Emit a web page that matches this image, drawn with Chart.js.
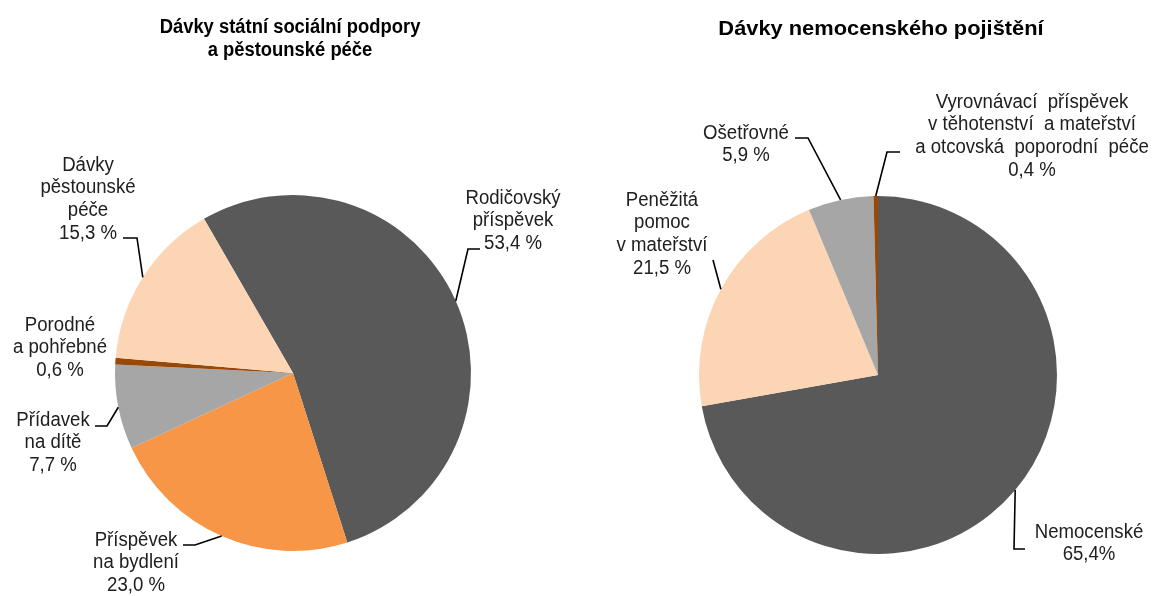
<!DOCTYPE html>
<html>
<head>
<meta charset="utf-8">
<script src="https://cdn.jsdelivr.net/npm/chart.js@4.4.1/dist/chart.umd.min.js"></script>
<style>
  html, body { margin: 0; padding: 0; background: #fff; }
  #wrap { position: relative; width: 1153px; height: 596px; }
  .box { position: absolute; top: 0; height: 596px; }
</style>
</head>
<body>
<div id="wrap">
  <div class="box" style="left:0;width:576px"><canvas id="leftPie"></canvas></div>
  <div class="box" style="left:576px;width:577px"><canvas id="rightPie"></canvas></div>
</div>
<script>
// Dávky státní sociální podpory a pěstounské péče
const sspLabels = ['Rodičovský příspěvek', 'Příspěvek na bydlení', 'Přídavek na dítě', 'Porodné a pohřebné', 'Dávky pěstounské péče'];
const sspValues = [53.4, 23.0, 7.7, 0.6, 15.3];
const sspText = [
	['Rodičovský', 'příspěvek', '53,4 %'],
	['Příspěvek', 'na bydlení', '23,0 %'],
	['Přídavek', 'na dítě', '7,7 %'],
	['Porodné', 'a pohřebné', '0,6 %'],
	['Dávky', 'pěstounské', 'péče', '15,3 %'],
];

// Dávky nemocenského pojištění
// slice sizes as drawn in the picture (the printed label of Nemocenské says 65,4%)
const nemLabels = ['Nemocenské', 'Peněžitá pomoc v mateřství', 'Ošetřovné', 'Vyrovnávací příspěvek'];
const nemValues = [72.2, 21.5, 5.9, 0.4];
const nemText = [
	['Nemocenské', '65,4%'],
	['Peněžitá', 'pomoc', 'v mateřství', '21,5 %'],
	['Ošetřovné', '5,9 %'],
	['Vyrovnávací  příspěvek', 'v těhotenství  a mateřství', 'a otcovská  poporodní  péče', '0,4 %'],
];

const sspColors = ['#595959', '#F79646', '#A6A6A6', '#984807', '#FCD5B5'];
const nemColors = ['#595959', '#FCD5B5', '#A6A6A6', '#984807'];

const FONT = '"Liberation Sans", Arial, sans-serif';

function drawText(ctx, str, x, y, sq) {
	ctx.save();
	ctx.translate(x, y);
	ctx.scale(sq, 1);
	ctx.fillText(str, 0, 0);
	ctx.restore();
}

// titles + labels with leader lines; label places are offsets from the pie centre
function makeCallouts(cfg) {
	return {
		id: 'callouts',
		afterDatasetsDraw(chart) {
			const ctx = chart.ctx;
			const arcs = chart.getDatasetMeta(0).data;
			ctx.save();
			ctx.fillStyle = '#000';
			ctx.textAlign = 'center';
			ctx.textBaseline = 'middle';
			ctx.font = 'bold ' + cfg.titleSize + 'px ' + FONT;
			cfg.title.forEach((t, i) => drawText(ctx, t, cfg.titleX, cfg.titleY + i * 23, cfg.titleSq));

			ctx.font = '20px ' + FONT;
			ctx.fillStyle = '#202020';
			ctx.strokeStyle = '#000';
			ctx.lineWidth = 1.6;
			arcs.forEach((arc, i) => {
				const c = cfg.places[i];
				cfg.texts[i].forEach((t, j) => drawText(ctx, t, arc.x + c.dx, arc.y + c.dy + j * 22.7, 0.93));
				if (!c.from) return;
				const mid = (arc.startAngle + arc.endAngle) / 2;
				const ex = arc.x + Math.cos(mid) * arc.outerRadius;
				const ey = arc.y + Math.sin(mid) * arc.outerRadius;
				ctx.beginPath();
				ctx.moveTo(arc.x + c.from[0], arc.y + c.from[1]);
				if (c.knee) ctx.lineTo(arc.x + c.knee[0], arc.y + c.knee[1]);
				ctx.lineTo(ex, ey);
				ctx.stroke();
			});
			ctx.restore();
		}
	};
}

function pie(id, labels, values, colors, rotation, padding, callouts) {
	return new Chart(document.getElementById(id), {
		type: 'pie',
		data: {
			labels: labels,
			datasets: [{
				data: values,
				backgroundColor: colors,
				borderWidth: 0,
				hoverOffset: 0,
			}],
		},
		options: {
			responsive: true,
			maintainAspectRatio: false,
			animation: false,
			events: [],
			rotation: rotation,
			layout: { padding: padding },
			plugins: {
				legend: { display: false },
				tooltip: { enabled: false },
			},
		},
		plugins: [makeCallouts(callouts)],
	});
}

pie('leftPie', sspLabels, sspValues, sspColors, -30,
	{ left: 115, right: 105, top: 195, bottom: 45 },
	{
		title: ['Dávky státní sociální podpory', 'a pěstounské péče'],
		titleX: 290, titleY: 27, titleSize: 20, titleSq: 0.92,
		texts: sspText,
		places: [
			{ dx: 220, dy: -175, from: [187, -124], knee: [175, -124] },
			{ dx: -157, dy: 167, from: [-110, 172], knee: [-98, 172] },
			{ dx: -240, dy: 47, from: [-198, 53], knee: [-186, 53] },
			{ dx: -233, dy: -48 },
			{ dx: -205, dy: -208, from: [-170, -135], knee: [-156, -135] },
		],
	});

pie('rightPie', nemLabels, nemValues, nemColors, 0,
	{ left: 123, right: 96, top: 196, bottom: 42 },
	{
		title: ['Dávky nemocenského pojištění'],
		titleX: 305, titleY: 29, titleSize: 21, titleSq: 1.04,
		texts: nemText,
		places: [
			{ dx: 211, dy: 157, from: [147, 174], knee: [136, 174] },
			{ dx: -216, dy: -175, from: [-165, -115] },
			{ dx: -132, dy: -242, from: [-83, -237], knee: [-70, -237] },
			{ dx: 154, dy: -273, from: [22, -223], knee: [9, -223] },
		],
	});
</script>
</body>
</html>
